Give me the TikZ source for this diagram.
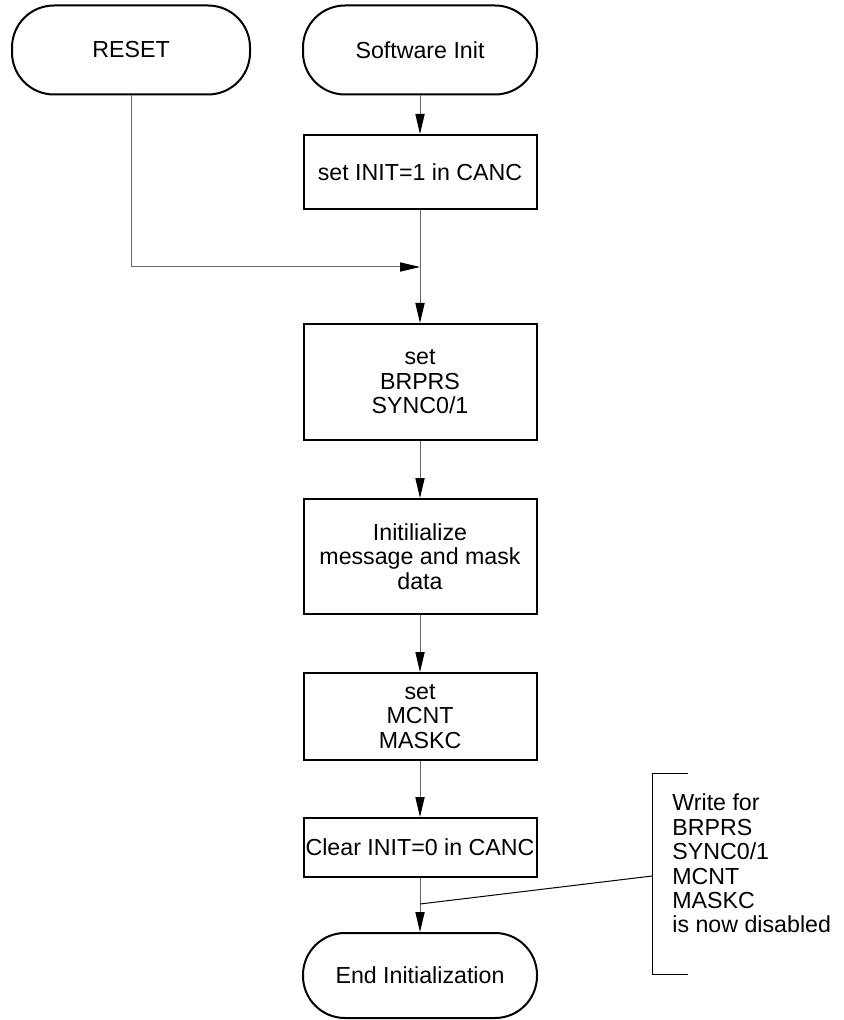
\documentclass[tikz,border=0pt]{standalone}
\usepackage{fontspec}
\setmainfont{Liberation Sans}
\usetikzlibrary{arrows.meta}
\begin{document}
\begin{tikzpicture}[x=0.5pt, y=-0.5pt,
  every node/.style={font=\fontsize{11.6}{12.2}\selectfont},
  term/.style={draw, line width=1pt, rounded corners=21pt, minimum width=117pt, minimum height=44.5pt, inner sep=0pt},
  stepbox/.style={draw, line width=1pt, minimum width=116.5pt, inner sep=0pt, align=center},
  flow/.style={draw=black!60, line width=0.5pt, -{Triangle[length=10pt,width=4.6pt,color=black]}},
  noteline/.style={draw, line width=0.5pt}]
\useasboundingbox (0,0) rectangle (843,1020);
\node[term, minimum width=119pt] (reset) at (131,50) {RESET};
\node[term] (swinit) at (420,50) {Software Init};
\node[stepbox, minimum height=37pt] (setinit) at (420,172) {set INIT=1 in CANC};
\coordinate (join) at (420,267);
\node[stepbox, minimum height=58pt] (setbrp) at (420,382) {set\\BRPRS\\SYNC0/1};
\node[stepbox, minimum height=57.5pt] (initmsg) at (420,556.5) {Initilialize\\message and mask\\data};
\node[stepbox, minimum height=43.5pt] (setmcnt) at (420,716.5) {set\\MCNT\\MASKC};
\node[stepbox, minimum height=29.5pt] (clrinit) at (420,847.5) {Clear INIT=0 in CANC};
\node[term, minimum height=42.5pt] (endinit) at (420,975.5) {End Initialization};
\draw[flow] (swinit) -- (setinit);
\draw[flow] (reset) |- (join);
\draw[flow] (setinit) -- (setbrp);
\draw[flow] (setbrp) -- (initmsg);
\draw[flow] (initmsg) -- (setmcnt);
\draw[flow] (setmcnt) -- (clrinit);
\draw[flow] (clrinit) -- (endinit);
% remark bracket
\coordinate (tap) at (420,904);
\coordinate (brtop) at (652,773);
\coordinate (brmid) at (652,876);
\coordinate (brbot) at (652,974);
\draw[noteline] ([xshift=18pt]brtop) -- (brtop) -- (brbot) -- ([xshift=18pt]brbot);
\draw[noteline] (tap) -- (brmid);
\node[anchor=west, align=left, inner sep=0pt] (note) at (672,863.5) {Write for\\BRPRS\\SYNC0/1\\MCNT\\MASKC\\is now disabled};
\end{tikzpicture}
\end{document}
